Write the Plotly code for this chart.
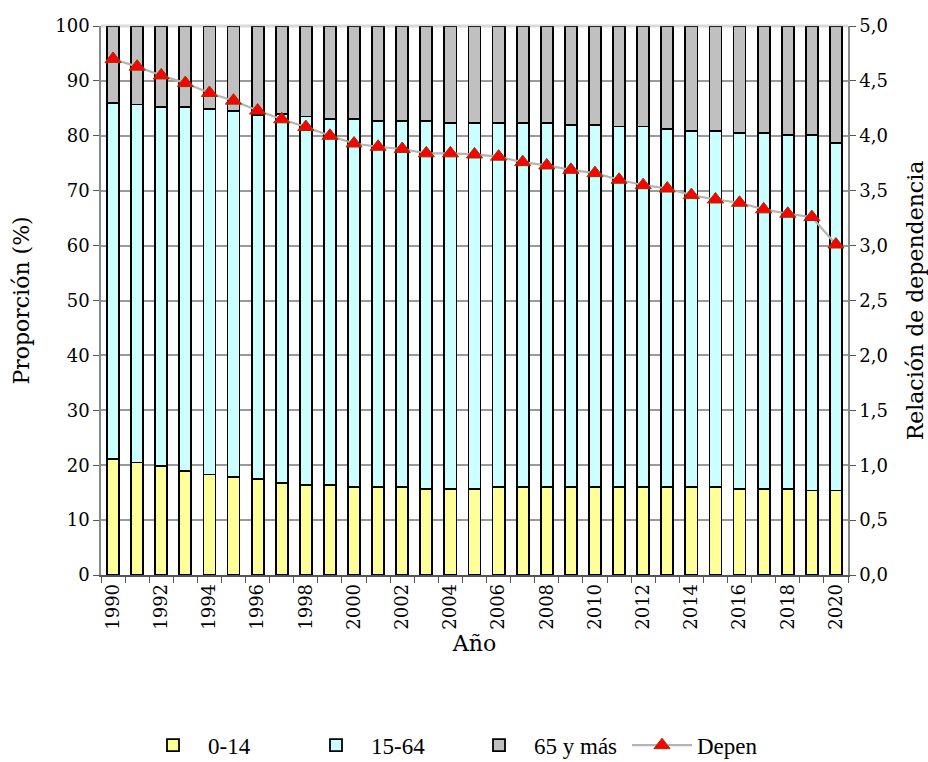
import plotly.graph_objects as go

years = list(range(1990, 2021))
age_0_14 = [21.1, 20.5, 19.8, 19.0, 18.3, 17.9, 17.5, 16.8, 16.4, 16.4, 16.1, 16.1, 16.1, 15.7, 15.7, 15.7,
            16.1, 16.1, 16.1, 16.1, 16.1, 16.1, 16.1, 16.1, 16.1, 16.1, 15.7, 15.7, 15.7, 15.4, 15.4]
cum_15_64 = [86.0, 85.7, 85.2, 85.2, 84.9, 84.5, 83.8, 83.9, 83.5, 83.1, 83.1, 82.7, 82.7, 82.7, 82.4, 82.4,
             82.4, 82.4, 82.4, 82.0, 82.0, 81.7, 81.7, 81.2, 80.9, 80.9, 80.5, 80.5, 80.2, 80.2, 78.7]
age_15_64 = [round(c - a, 1) for c, a in zip(cum_15_64, age_0_14)]
age_65 = [round(100 - c, 1) for c in cum_15_64]
depen = [4.70, 4.63, 4.55, 4.48, 4.39, 4.32, 4.23, 4.15, 4.08, 4.00, 3.93, 3.90, 3.88, 3.84, 3.84, 3.83,
         3.81, 3.76, 3.73, 3.69, 3.66, 3.60, 3.55, 3.52, 3.46, 3.42, 3.39, 3.33, 3.29, 3.26, 3.01]

serif = "DejaVu Serif"
bar_line = dict(color="black", width=1.8)

fig = go.Figure()
fig.add_trace(go.Bar(x=years, y=age_0_14, name="0-14", marker=dict(color="#FFFF99", line=bar_line), width=0.5))
fig.add_trace(go.Bar(x=years, y=age_15_64, name="15-64", marker=dict(color="#CCFFFF", line=bar_line), width=0.5))
fig.add_trace(go.Bar(x=years, y=age_65, name="65 y más", marker=dict(color="#C0C0C0", line=bar_line), width=0.5))
fig.add_trace(go.Scatter(x=years, y=depen, name="Depen", yaxis="y2", mode="lines+markers",
                         line=dict(color="#B4B4B4", width=2.2),
                         marker=dict(symbol="triangle-up", size=14, color="#FF0000",
                                     line=dict(color="#993300", width=1))))

fig.update_layout(
    template="simple_white",
    width=928, height=762,
    margin=dict(l=101, r=80, t=26, b=187),
    barmode="stack",
    plot_bgcolor="white", paper_bgcolor="white",
    separators=",.",
    font=dict(family=serif, size=18, color="black"),
    showlegend=True,
    legend=dict(orientation="h", x=0.5, xanchor="center", xref="container",
                y=0.022, yanchor="middle", yref="container",
                font=dict(family="Liberation Serif", size=23), itemwidth=60,
                entrywidth=88, traceorder="normal"),
    xaxis=dict(range=[1989.5, 2020.5], tickmode="array", tickvals=years[::2], ticktext=[str(y) for y in years[::2]],
               tickangle=-90, ticks="", showgrid=False, zeroline=False, automargin=False,
               showline=True, linecolor="#555555", linewidth=1.5,
               minor=dict(tickmode="linear", tick0=0.5, dtick=1, ticks="outside", ticklen=6,
                          tickcolor="#555555", tickwidth=1.2, showgrid=False),
               title=dict(text="Año", standoff=7), mirror=False),
    yaxis=dict(range=[0, 100], dtick=10, ticks="outside", ticklen=6, tickcolor="#555555",
               showgrid=True, gridcolor="#9A9A9A", gridwidth=1.5, zeroline=False, automargin=False,
               showline=True, linecolor="#888888", linewidth=1.5,
               title=dict(text="Proporción (%)", standoff=20)),
    yaxis2=dict(range=[0, 5], dtick=0.5, tickformat=".1f", overlaying="y", side="right",
                ticks="outside", ticklen=6, tickcolor="#555555", showgrid=False, zeroline=False,
                automargin=False,
                showline=True, linecolor="#888888", linewidth=1.5,
                title=dict(text="Relación de dependencia", standoff=22)),
)
# top frame line
fig.add_shape(type="line", xref="paper", yref="paper", x0=0, x1=1, y0=1, y1=1,
              line=dict(color="#888888", width=3))

fig.write_html("out.html", config={"displayModeBar": False},
               post_script="document.body.style.margin='0';")
